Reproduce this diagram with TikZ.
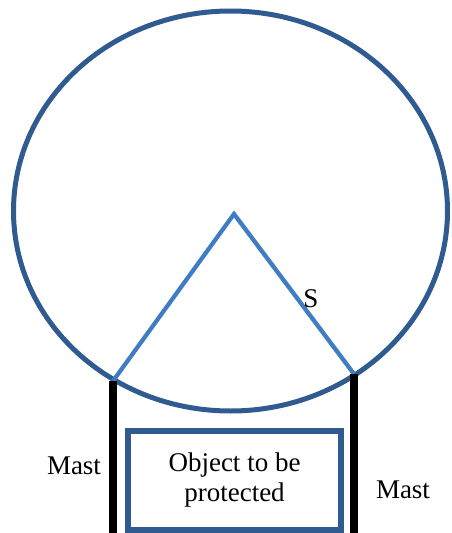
\documentclass[tikz,border=0pt]{standalone}
\usepackage{fontspec}
\setmainfont{Liberation Serif}
\definecolor{ringblue}{RGB}{47,91,145}
\definecolor{lineblue}{RGB}{62,124,196}
\begin{document}
\begin{tikzpicture}[x=1pt,y=-1pt,
  ring/.style={draw=ringblue,line width=5pt},
  sline/.style={draw=lineblue,line width=4.2pt,line join=miter},
  mastline/.style={draw=black,line width=8.5pt},
  lbl/.style={font=\rmfamily\fontsize{27}{30}\selectfont,inner sep=0pt},
  objbox/.style={draw=ringblue,line width=5.5pt,minimum width=213pt,minimum height=99pt,inner sep=0pt,align=center,font=\rmfamily\fontsize{27}{30}\selectfont}]
\useasboundingbox (0,0) rectangle (451,533);
\draw[ring] (230.5,211) ellipse [x radius=217, y radius=200];
\coordinate (apex) at (234,214);
\coordinate (lp) at (113,381);
\coordinate (rp) at (354,374);
\coordinate (lb) at (113,540);
\coordinate (rb) at (354,540);
\draw[sline] (lp) -- (apex) -- (rp);
\draw[mastline] (lp) -- (lb);
\draw[mastline] (rp) -- (rb);
\node[objbox] (obj) at (234.5,480.5) {Object to be\\protected};
\node[lbl] (mastl) at (74,466) {Mast};
\node[lbl] (mastr) at (403,490) {Mast};
\node[lbl] (s) at (311,299) {S};
\end{tikzpicture}
\end{document}
